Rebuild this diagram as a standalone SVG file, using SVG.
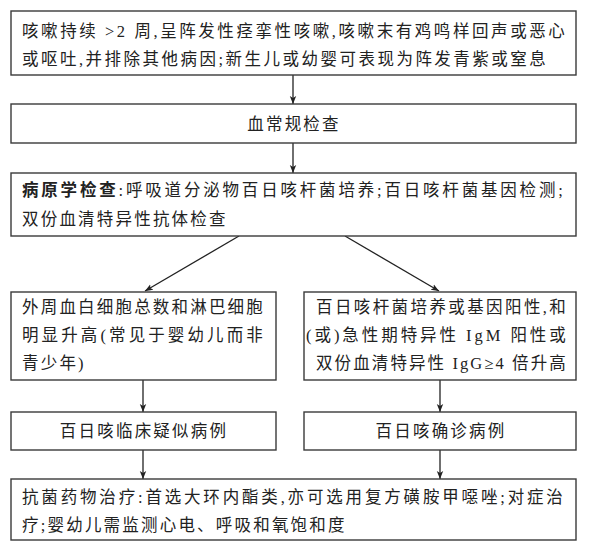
<svg xmlns="http://www.w3.org/2000/svg" width="590" height="554" viewBox="0 0 590 554">
<defs>
<style>
.box{fill:#fff;stroke:#3a3a3a;stroke-width:1.4}
.t{font-family:"Liberation Serif","Noto Sans CJK SC",serif;font-size:16.5px;fill:#222;letter-spacing:2.2px}
.c{text-anchor:middle}
.b{font-weight:bold;font-family:"Noto Sans CJK SC","Liberation Sans",sans-serif}
.ln{stroke:#222;stroke-width:1.3;fill:none;marker-end:url(#ah)}
</style>
<marker id="ah" viewBox="0 0 10 10" refX="10" refY="5" markerWidth="8" markerHeight="8" markerUnits="userSpaceOnUse" orient="auto">
<path d="M0,1 L10,5 L0,9 L2.5,5 Z" fill="#222"/>
</marker>
</defs>
<rect width="590" height="554" fill="#fff"/>
<g id="connectors">
<line class="ln" x1="293" y1="75" x2="293" y2="104"/>
<line class="ln" x1="293" y1="143" x2="293" y2="173"/>
<line class="ln" x1="239" y1="236" x2="145" y2="291"/>
<line class="ln" x1="345" y1="236" x2="439" y2="291"/>
<line class="ln" x1="143" y1="380" x2="143" y2="412"/>
<line class="ln" x1="440" y1="380" x2="440" y2="412"/>
<line class="ln" x1="143" y1="450" x2="143" y2="479"/>
<line class="ln" x1="440" y1="450" x2="440" y2="479"/>
</g>
<g id="n1">
<rect class="box" x="11" y="11" width="565" height="64"/>
<text class="t" x="22" y="37" textLength="545" lengthAdjust="spacing">咳嗽持续 &gt;2 周,呈阵发性痉挛性咳嗽,咳嗽末有鸡鸣样回声或恶心</text>
<text class="t" x="22" y="65" textLength="526" lengthAdjust="spacing">或呕吐,并排除其他病因;新生儿或幼婴可表现为阵发青紫或窒息</text>
</g>
<g id="n2">
<rect class="box" x="11" y="104" width="565" height="39"/>
<text class="t c" x="294" y="130">血常规检查</text>
</g>
<g id="n3">
<rect class="box" x="11" y="173" width="565" height="63"/>
<text class="t" x="22" y="196" textLength="543" lengthAdjust="spacing"><tspan class="b">病原学检查</tspan>:呼吸道分泌物百日咳杆菌培养;百日咳杆菌基因检测;</text>
<text class="t" x="22" y="225">双份血清特异性抗体检查</text>
</g>
<g id="n4L">
<rect class="box" x="11" y="292" width="265" height="88"/>
<text class="t" x="22" y="313" textLength="243" lengthAdjust="spacing">外周血白细胞总数和淋巴细胞</text>
<text class="t" x="22" y="341" textLength="243" lengthAdjust="spacing">明显升高(常见于婴幼儿而非</text>
<text class="t" x="22" y="369">青少年)</text>
</g>
<g id="n4R">
<rect class="box" x="304" y="292" width="272" height="88"/>
<text class="t" x="316" y="313" textLength="252" lengthAdjust="spacing">百日咳杆菌培养或基因阳性,和</text>
<text class="t" x="306" y="341" textLength="262" lengthAdjust="spacing">(或)急性期特异性 IgM 阳性或</text>
<text class="t" x="316" y="369" textLength="252" lengthAdjust="spacing">双份血清特异性 IgG≥4 倍升高</text>
</g>
<g id="n5L">
<rect class="box" x="11" y="412" width="265" height="38"/>
<text class="t c" x="144" y="437">百日咳临床疑似病例</text>
</g>
<g id="n5R">
<rect class="box" x="304" y="412" width="272" height="38"/>
<text class="t c" x="441" y="437">百日咳确诊病例</text>
</g>
<g id="n6">
<rect class="box" x="11" y="479" width="565" height="61"/>
<text class="t" x="22" y="503" textLength="543" lengthAdjust="spacing">抗菌药物治疗:首选大环内酯类,亦可选用复方磺胺甲噁唑;对症治</text>
<text class="t" x="22" y="531">疗;婴幼儿需监测心电、呼吸和氧饱和度</text>
</g>
</svg>
